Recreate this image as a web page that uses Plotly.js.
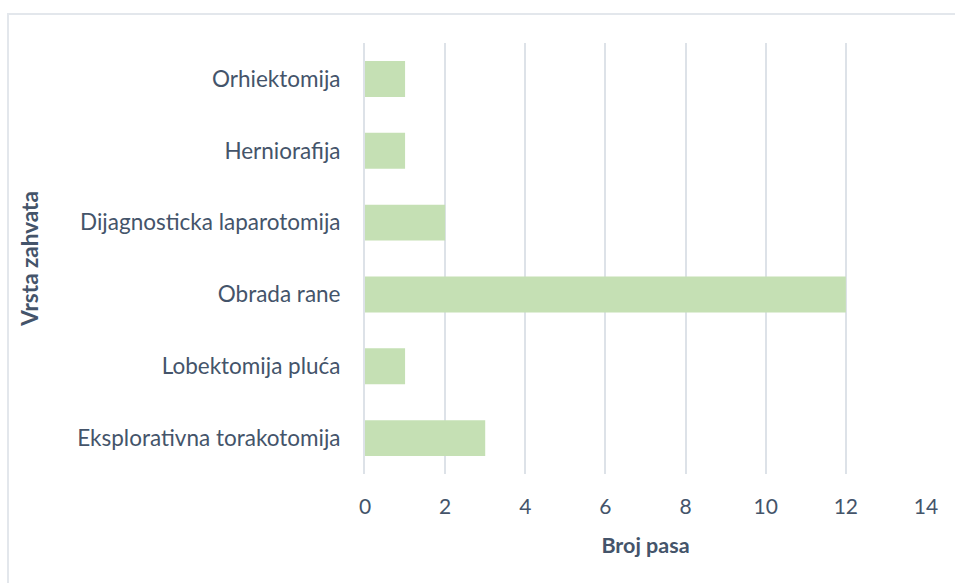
<!DOCTYPE html>
<html><head><meta charset="utf-8">
<script src="https://cdn.plot.ly/plotly-3.0.1.min.js"></script>
<style>
html,body{margin:0;padding:0;width:955px;height:583px;overflow:hidden;background:#fff;}
#frame{position:absolute;left:7px;top:13px;width:1000px;height:700px;border:2px solid #E3E7EC;box-sizing:border-box;}
#chart{position:absolute;left:0;top:0;width:955px;height:583px;}
</style></head>
<body>
<div id="frame"></div>
<div id="chart"></div>
<script>
const categories = ["Eksplorativna torakotomija","Lobektomija pluća","Obrada rane","Dijagnosticka laparotomija","Herniorafija","Orhiektomija"];
const values = [3,1,12,2,1,1];
const xTicks = [0,2,4,6,8,10,12,14];

const txt = '#44546A';
const fontFam = 'Lato, "Open Sans", sans-serif';
Plotly.newPlot('chart', [{
  type:'bar', orientation:'h', y:categories, x:values,
  marker:{color:'#C5E0B4'}, width:0.5, hoverinfo:'x+y'
}], {
  width:955, height:583,
  margin:{l:365, r:29, t:43, b:109},
  paper_bgcolor:'rgba(0,0,0,0)', plot_bgcolor:'rgba(0,0,0,0)',
  font:{family:fontFam, color:txt, size:22},
  showlegend:false,
  xaxis:{range:[0,14], tickvals:xTicks, ticktext:xTicks.map(String),
    showgrid:true, gridcolor:'#DDE2E8', gridwidth:2, zeroline:false, showline:false,
    ticks:'outside', ticklen:14, tickcolor:'rgba(0,0,0,0)', tickfont:{size:21, color:txt}, automargin:false,
    title:{text:'<b>Broj pasa</b>', font:{size:21.5, color:txt}, standoff:20}},
  yaxis:{type:'category', showgrid:false, zeroline:false, showline:true, linecolor:'#DDE2E8', linewidth:2,
    ticks:'outside', ticklen:18, tickcolor:'rgba(0,0,0,0)', tickfont:{size:22.5, color:txt}, automargin:false,
    title:{text:'<b>Vrsta zahvata</b>', font:{size:22.5, color:txt}, standoff:32}}
}, {displayModeBar:false, staticPlot:true});
</script>
</body></html>
